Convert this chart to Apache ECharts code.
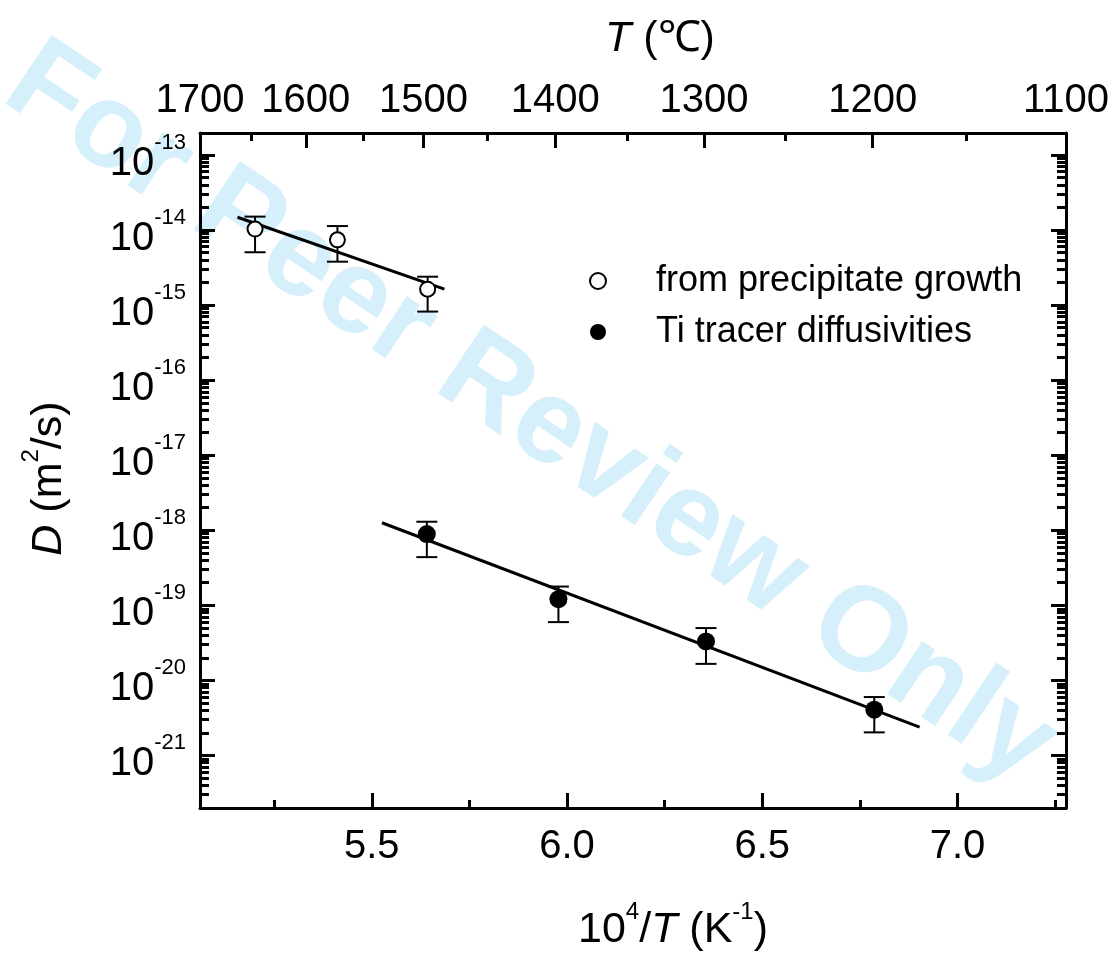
<!DOCTYPE html>
<html>
<head>
<meta charset="utf-8">
<script src="https://cdn.jsdelivr.net/npm/echarts@6/dist/echarts.min.js"></script>
<style>
  html, body { margin: 0; padding: 0; background: #fff; }
  #chart { width: 1117px; height: 954px; }
</style>
</head>
<body>
<div id="chart"></div>
<script>
// bottom axis: 10^4/T (1/K)
var xMajor = [5.5, 6.0, 6.5, 7.0];
var xMinor = [5.25, 5.75, 6.25, 6.75, 7.25];

// top axis: T in degrees C
var tMajor = [1700, 1600, 1500, 1400, 1300, 1200, 1100];
var tMinor = [1650, 1550, 1450, 1350, 1250, 1150];

// left axis: decades of D
var yExp = [-21, -20, -19, -18, -17, -16, -15, -14, -13];
var yMinorMult = [2, 3, 4, 5, 6, 7, 8, 9];

// from precipitate growth (open circles)
var growthX = [5.201, 5.412, 5.643];
var growthD = [1.03e-14, 7.4e-15, 1.63e-15];
var growthLo = [5.06e-15, 3.79e-15, 8.2e-16];
var growthHi = [1.51e-14, 1.13e-14, 2.39e-15];
var growthFitX = [5.156, 5.686];
var growthFitD = [1.48e-14, 1.63e-15];

// Ti tracer diffusivities (filled circles)
var tracerX = [5.641, 5.978, 6.356, 6.787];
var tracerD = [8.9e-19, 1.21e-19, 3.3e-20, 4.07e-21];
var tracerLo = [4.39e-19, 5.98e-20, 1.66e-20, 2.03e-21];
var tracerHi = [1.30e-18, 1.78e-19, 4.98e-20, 6.0e-21];
var tracerFitX = [5.526, 6.903];
var tracerFitD = [1.26e-18, 2.39e-21];

var FONT = '"Liberation Sans", Arial, Helvetica, sans-serif';
var toInvT = function (c) { return 1e4 / (c + 273.15); };
var lg = Math.log10;

var yMinor = [];
yExp.concat([-22]).forEach(function (e) {
  yMinorMult.forEach(function (m) { yMinor.push(e + lg(m)); });
});

// superscripts for the axis titles
var nameRich = {
  sup: { fontSize: 24, height: 22, lineHeight: 22, verticalAlign: 'top', fontFamily: FONT, color: '#000' },
  i: { fontSize: 43, lineHeight: 58, fontStyle: 'italic', fontFamily: FONT, color: '#000' }
};
// superscripts for the decade tick labels
var tickRich = {
  b: { fontSize: 40, height: 58, lineHeight: 41, verticalAlign: 'top', fontFamily: FONT, color: '#000' },
  sup: { fontSize: 22, height: 16, lineHeight: 41, verticalAlign: 'top', fontFamily: FONT, color: '#000' }
};

var frameLine = { show: true, lineStyle: { color: '#000', width: 3 } };
var noLine = { show: false };

function pts(xs, ys) {
  return xs.map(function (x, i) { return [x, lg(ys[i])]; });
}
function bars(xs, lo, hi) {
  return xs.map(function (x, i) { return [x, lg(lo[i]), lg(hi[i])]; });
}

function errRender(params, api) {
  var x = api.value(0);
  var a = api.coord([x, api.value(1)]);
  var b = api.coord([x, api.value(2)]);
  var w = 10.5;
  var st = { stroke: '#000', lineWidth: 2, fill: null };
  return {
    type: 'group',
    children: [
      { type: 'line', shape: { x1: a[0], y1: a[1], x2: b[0], y2: b[1] }, style: st },
      { type: 'line', shape: { x1: a[0] - w, y1: a[1], x2: a[0] + w, y2: a[1] }, style: st },
      { type: 'line', shape: { x1: b[0] - w, y1: b[1], x2: b[0] + w, y2: b[1] }, style: st }
    ]
  };
}

var xMin = 5.060, xMax = 7.278;
var yMin = -21.70, yMax = -12.707;

var chart = echarts.init(document.getElementById('chart'));
chart.setOption({
  backgroundColor: '#fff',
  animation: false,
  graphic: [{
    type: 'text',
    z: -10,
    x: 530,
    y: 415,
    rotation: -0.59,
    style: {
      text: 'For Peer Review Only',
      font: 'bold 120px ' + FONT,
      fill: '#d5effb',
      align: 'center',
      verticalAlign: 'middle'
    }
  }],
  grid: { left: 200, top: 133, width: 866, height: 675, outerBoundsMode: 'none', containLabel: false },
  legend: {
    orient: 'vertical',
    left: 584,
    top: 256,
    itemWidth: 16,
    itemHeight: 16,
    itemGap: 11,
    textStyle: { fontSize: 36, lineHeight: 40, fontFamily: FONT, color: '#000', padding: [0, 0, 0, 45] },
    data: [
      { name: 'from precipitate growth', icon: 'circle', itemStyle: { color: '#fff', borderColor: '#000', borderWidth: 2 } },
      { name: 'Ti tracer diffusivities', icon: 'circle', itemStyle: { color: '#000', borderWidth: 0 } }
    ]
  },
  xAxis: [
    {
      type: 'value', position: 'bottom', min: xMin, max: xMax,
      axisLine: frameLine,
      splitLine: { show: false },
      axisTick: { inside: true, length: 15, customValues: xMajor, lineStyle: { color: '#000', width: 3 } },
      axisLabel: {
        customValues: xMajor, margin: 19, fontSize: 40, fontFamily: FONT, color: '#000',
        showMinLabel: true, showMaxLabel: true,
        formatter: function (v) { return v.toFixed(1); }
      },
      name: '10{sup|4}/{i|T} (K{sup|-1})',
      nameLocation: 'middle',
      nameGap: 93,
      nameTextStyle: { fontSize: 43, lineHeight: 58, fontFamily: FONT, color: '#000', padding: [0, 0, 0, 80], rich: nameRich }
    },
    {
      type: 'value', position: 'bottom', min: xMin, max: xMax,
      axisLine: noLine, splitLine: { show: false },
      axisTick: { inside: true, length: 8, customValues: xMinor, lineStyle: { color: '#000', width: 3 } },
      axisLabel: { show: false }
    },
    {
      type: 'value', position: 'top', min: toInvT(1700), max: toInvT(1100),
      axisLine: frameLine, splitLine: { show: false },
      axisTick: { inside: true, length: 15, customValues: tMajor.map(toInvT), lineStyle: { color: '#000', width: 3 } },
      axisLabel: {
        customValues: tMajor.map(toInvT), margin: 12, fontSize: 40, fontFamily: FONT, color: '#000',
        showMinLabel: true, showMaxLabel: true,
        formatter: function (v) { return String(Math.round(1e4 / v - 273.15)); }
      },
      name: '{i|T} (\u2103)',
      nameLocation: 'middle',
      nameGap: 70,
      nameTextStyle: { fontSize: 43, lineHeight: 48, fontFamily: FONT, color: '#000', padding: [0, 0, 0, 54],
        rich: { i: { fontSize: 43, lineHeight: 48, fontStyle: 'italic', fontFamily: FONT, color: '#000' } } }
    },
    {
      type: 'value', position: 'top', min: toInvT(1700), max: toInvT(1100),
      axisLine: noLine, splitLine: { show: false },
      axisTick: { inside: true, length: 8, customValues: tMinor.map(toInvT), lineStyle: { color: '#000', width: 3 } },
      axisLabel: { show: false }
    }
  ],
  yAxis: [
    {
      type: 'value', position: 'left', min: yMin, max: yMax,
      axisLine: frameLine, splitLine: { show: false },
      axisTick: { inside: true, length: 15, customValues: yExp, lineStyle: { color: '#000', width: 3 } },
      axisLabel: {
        customValues: yExp, margin: 14, fontSize: 40, lineHeight: 41, fontFamily: FONT, color: '#000',
        showMinLabel: true, showMaxLabel: true, hideOverlap: false,
        formatter: function (v) { return '{b|10}{sup|' + Math.round(v) + '}'; },
        rich: tickRich
      },
      name: '{i|D} (m{sup|2}/s)',
      nameLocation: 'middle',
      nameRotate: 90,
      nameGap: 122,
      nameTextStyle: { fontSize: 43, lineHeight: 58, fontFamily: FONT, color: '#000', padding: [0, 16, 0, 0], rich: nameRich }
    },
    {
      type: 'value', position: 'left', min: yMin, max: yMax,
      axisLine: noLine, splitLine: { show: false },
      axisTick: { inside: true, length: 9, customValues: yMinor, lineStyle: { color: '#000', width: 3 } },
      axisLabel: { show: false }
    },
    {
      type: 'value', position: 'right', min: yMin, max: yMax,
      axisLine: frameLine, splitLine: { show: false },
      axisTick: { inside: true, length: 15, customValues: yExp, lineStyle: { color: '#000', width: 3 } },
      axisLabel: { show: false }
    },
    {
      type: 'value', position: 'right', min: yMin, max: yMax,
      axisLine: noLine, splitLine: { show: false },
      axisTick: { inside: true, length: 9, customValues: yMinor, lineStyle: { color: '#000', width: 3 } },
      axisLabel: { show: false }
    }
  ],
  series: [
    {
      type: 'custom', name: 'growth err', xAxisIndex: 0, yAxisIndex: 0, z: 3,
      renderItem: errRender, encode: { x: 0, y: [1, 2] },
      data: bars(growthX, growthLo, growthHi)
    },
    {
      type: 'custom', name: 'tracer err', xAxisIndex: 0, yAxisIndex: 0, z: 3,
      renderItem: errRender, encode: { x: 0, y: [1, 2] },
      data: bars(tracerX, tracerLo, tracerHi)
    },
    {
      type: 'line', name: 'growth fit', xAxisIndex: 0, yAxisIndex: 0, z: 4,
      showSymbol: false, symbol: 'none',
      lineStyle: { color: '#000', width: 3 },
      data: pts(growthFitX, growthFitD)
    },
    {
      type: 'line', name: 'tracer fit', xAxisIndex: 0, yAxisIndex: 0, z: 4,
      showSymbol: false, symbol: 'none',
      lineStyle: { color: '#000', width: 3 },
      data: pts(tracerFitX, tracerFitD)
    },
    {
      type: 'scatter', name: 'from precipitate growth', xAxisIndex: 0, yAxisIndex: 0, z: 5,
      symbol: 'circle', symbolSize: 15,
      itemStyle: { color: '#fff', borderColor: '#000', borderWidth: 2, opacity: 1 },
      data: pts(growthX, growthD)
    },
    {
      type: 'scatter', name: 'Ti tracer diffusivities', xAxisIndex: 0, yAxisIndex: 0, z: 5,
      symbol: 'circle', symbolSize: 18,
      itemStyle: { color: '#000', opacity: 1 },
      data: pts(tracerX, tracerD)
    }
  ]
});
</script>
</body>
</html>
